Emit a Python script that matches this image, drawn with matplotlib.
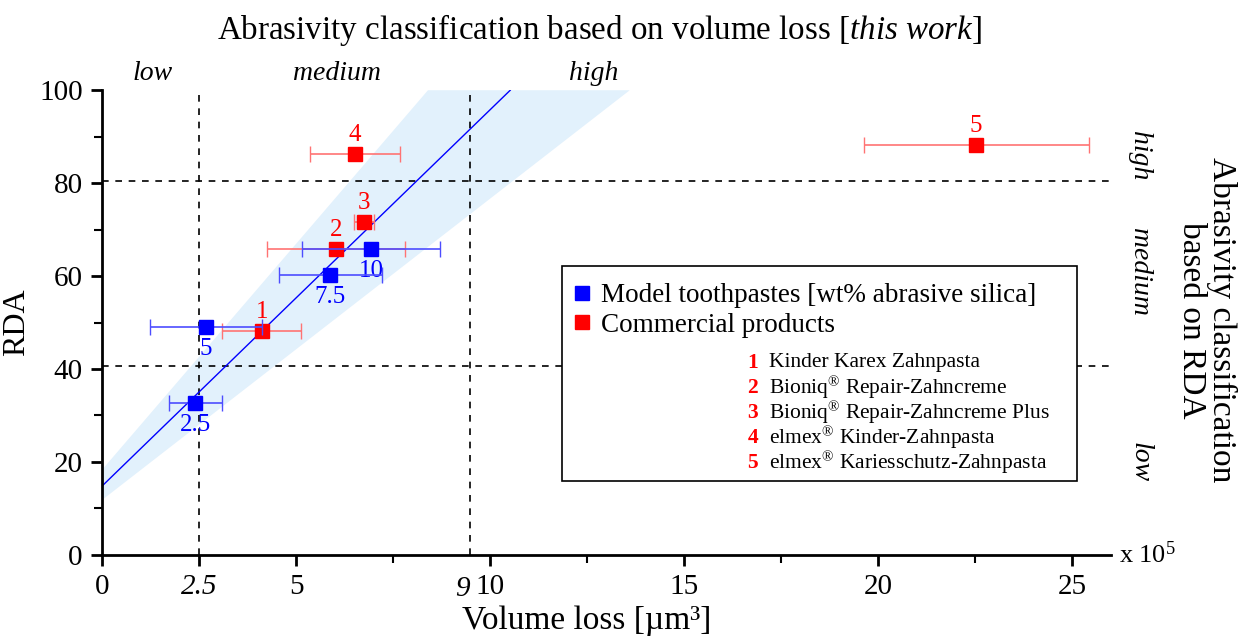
import numpy as np
import matplotlib.pyplot as plt
from matplotlib.patches import Rectangle
from matplotlib.lines import Line2D

plt.rcParams['font.family'] = ['Liberation Serif', 'DejaVu Serif']
plt.rcParams['mathtext.fontset'] = 'custom'
plt.rcParams['mathtext.rm'] = 'Liberation Serif'
plt.rcParams['mathtext.it'] = 'Liberation Serif:italic'

# model toothpastes (volume loss in 1e5 um^3, RDA)
model_labels = ['2.5', '5', '7.5', '10']
model_vol = [2.4, 2.68, 5.88, 6.93]
model_vol_err = [0.68, 1.44, 1.33, 1.78]
model_rda = [32.7, 49.0, 60.2, 65.8]

# commercial products
prod_labels = ['1', '2', '3', '4', '5']
prod_vol = [4.12, 6.03, 6.75, 6.52, 22.53]
prod_vol_err = [1.02, 1.77, 0.25, 1.16, 2.9]
prod_rda = [48.2, 65.8, 71.6, 86.2, 88.2]
prod_names = ['Kinder Karex Zahnpasta',
              r'Bioniq$^{®}$ Repair-Zahncreme',
              r'Bioniq$^{®}$ Repair-Zahncreme Plus',
              r'elmex$^{®}$ Kinder-Zahnpasta',
              r'elmex$^{®}$ Kariesschutz-Zahnpasta']

# linear fit and confidence band
fit_x = [0, 10.52]
fit_y = [14.8, 100]
band_x = [0, 13.6, 8.4, 0]
band_y = [11.8, 100, 100, 18.3]

# classification limits
vol_limits = [2.5, 9.48]
rda_limits = [80.5, 40.7]

fig = plt.figure(figsize=(12.44, 6.4), dpi=100)
ax = fig.add_axes([0.082, 0.133, 0.811, 0.726])

ax.fill(band_x, band_y, color='#e2f1fc', lw=0, zorder=0)
ax.plot(fit_x, fit_y, color='blue', lw=1, zorder=2)

for v in vol_limits:
    ax.axvline(v, color='black', ls=(0, (4, 4)), lw=1.2, zorder=1)
for r in rda_limits:
    ax.axhline(r, color='black', ls=(0, (4, 4)), lw=1.2, zorder=1)

ax.errorbar(model_vol, model_rda, xerr=model_vol_err, fmt='s', color='blue',
            ms=10.5, ecolor=(0.3, 0.3, 1.0), elinewidth=1.2, capsize=6, zorder=4)
ax.errorbar(prod_vol, prod_rda, xerr=prod_vol_err, fmt='s', color='red',
            ms=10.5, ecolor=(1.0, 0.45, 0.45), elinewidth=1.2, capsize=6, zorder=3)

for lab, x, y in zip(model_labels, model_vol, model_rda):
    ax.annotate(lab, (x, y), xytext=(0, -8), textcoords='offset points',
                ha='center', va='top', color='blue', fontsize=18)
for lab, x, y in zip(prod_labels, prod_vol, prod_rda):
    ax.annotate(lab, (x, y), xytext=(0, 6), textcoords='offset points',
                ha='center', va='bottom', color='red', fontsize=18)

ax.set_xlim(0, 26)
ax.set_ylim(0, 100)
ax.spines['top'].set_visible(False)
ax.spines['right'].set_visible(False)
ax.spines['left'].set_linewidth(2)
ax.spines['bottom'].set_linewidth(2)

ax.set_xticks([0, 2.5, 5, 10, 15, 20, 25])
ax.set_xticklabels(['0', '2.5', '5', '10', '15', '20', '25'])
ax.get_xticklabels()[1].set_style('italic')
ax.set_xticks([7.5, 12.5, 17.5, 22.5], minor=True)
ax.set_yticks([0, 20, 40, 60, 80, 100])
ax.set_yticks([10, 30, 50, 70, 90], minor=True)
ax.tick_params(which='major', length=8, width=2, labelsize=21, pad=6)
ax.tick_params(which='minor', length=6, width=1.5)
ax.text(9.3, -0.045, '9', transform=ax.get_xaxis_transform(), ha='center',
        va='top', fontsize=21, style='italic')
ax.text(26.2, 0, r'x 10$^5$', ha='left', va='center', fontsize=19, clip_on=False)

ax.set_xlabel('Volume loss [µm³]', fontsize=24, labelpad=4)
ax.xaxis.label.set_x(0.48)
ax.set_ylabel('RDA', fontsize=23, labelpad=6)

# classification labels
for lab, x in zip(['low', 'medium', 'high'], [1.31, 6.06, 12.68]):
    ax.text(x, 103.7, lab, ha='center', va='center', fontsize=20,
            style='italic', clip_on=False)
for lab, y in zip(['high', 'medium', 'low'], [86, 61, 20]):
    ax.text(26.75, y, lab, ha='center', va='center', fontsize=20,
            style='italic', rotation=-90, clip_on=False)

fig.text(0.482, 0.953, r'Abrasivity classification based on volume loss [$\it{this\ work}$]',
         ha='center', va='center', fontsize=23.8)
fig.text(0.970, 0.5, 'Abrasivity classification\nbased on RDA', ha='center',
         va='center', rotation=-90, fontsize=24, linespacing=0.95)

# legend box
ax.add_patch(Rectangle((0.456, 0.159), 0.51, 0.462, transform=ax.transAxes,
                       facecolor='white', edgecolor='black', lw=1.2, zorder=5))
handles = [Line2D([], [], marker='s', ls='', color='blue', ms=10),
           Line2D([], [], marker='s', ls='', color='red', ms=10)]
leg = ax.legend(handles, ['Model toothpastes [wt% abrasive silica]', 'Commercial products'],
                loc='upper left', bbox_to_anchor=(0.444, 0.625), frameon=False,
                fontsize=19.5, handletextpad=0.2, handlelength=1.0, labelspacing=0.15,
                borderaxespad=0.3)
leg.set_zorder(6)
for i, (lab, name) in enumerate(zip(prod_labels, prod_names)):
    yy = 0.414 - i * 0.054
    ax.text(0.645, yy, lab, transform=ax.transAxes, color='red', fontweight='bold',
            fontsize=15.5, ha='center', va='center', zorder=7)
    ax.text(0.661, yy, name, transform=ax.transAxes, fontsize=15.5, ha='left',
            va='center', zorder=7)

fig.savefig('out.png', dpi=100)
